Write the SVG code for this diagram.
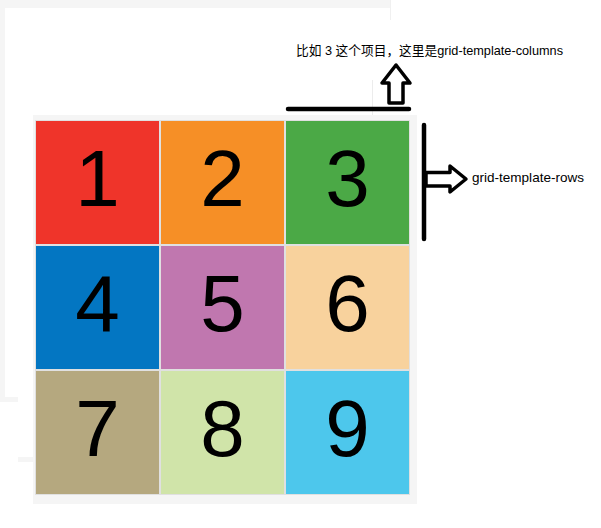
<svg xmlns="http://www.w3.org/2000/svg" width="601" height="528" viewBox="0 0 601 528">
  <style>
    .bg { fill: #f5f5f5; }
    .num { font-family: "Liberation Sans", Arial, sans-serif; font-size: 80px; fill: #000; text-anchor: middle; }
    .note { font-family: "Liberation Sans", "Noto Sans CJK SC", sans-serif; font-size: 13px; fill: #000; }
    .stroke { fill: none; stroke: #000; stroke-width: 4.5; stroke-linecap: round; }
    .arrow { fill: #fff; stroke: #000; stroke-width: 3.5; stroke-linejoin: round; }
  </style>
  <rect x="0" y="0" width="601" height="528" fill="#fff"/>
  <!-- background screenshot remnants -->
  <rect class="bg" x="0" y="0" width="390" height="8"/>
  <rect class="bg" x="0" y="0" width="5" height="402"/>
  <rect class="bg" x="0" y="397" width="18" height="5"/>
  <rect class="bg" x="18" y="457" width="15" height="5"/>
  <line x1="390.5" y1="0" x2="390.5" y2="20" stroke="#f0f0f0" stroke-width="1"/>
  <line x1="372.5" y1="80" x2="372.5" y2="115" stroke="#ececec" stroke-width="1"/>
  <!-- grid container -->
  <rect class="bg" x="33" y="115" width="384" height="389"/>
  <rect x="35" y="120" width="375" height="375" fill="#e0e0e0"/>
  <g id="cell1"><rect x="36" y="121" width="123" height="123" fill="#ef342a"/><text class="num" x="97.5" y="206">1</text></g>
  <g id="cell2"><rect x="161" y="121" width="123" height="123" fill="#f68f26"/><text class="num" x="222.5" y="206">2</text></g>
  <g id="cell3"><rect x="286" y="121" width="123" height="123" fill="#4ba946"/><text class="num" x="347.5" y="206">3</text></g>
  <g id="cell4"><rect x="36" y="246" width="123" height="123" fill="#0376c2"/><text class="num" x="97.5" y="331">4</text></g>
  <g id="cell5"><rect x="161" y="246" width="123" height="123" fill="#c077af"/><text class="num" x="222.5" y="331">5</text></g>
  <g id="cell6"><rect x="286" y="246" width="123" height="123" fill="#f8d29d"/><text class="num" x="347.5" y="331">6</text></g>
  <g id="cell7"><rect x="36" y="371" width="123" height="123" fill="#b5a87f"/><text class="num" x="97.5" y="456">7</text></g>
  <g id="cell8"><rect x="161" y="371" width="123" height="123" fill="#d0e4a9"/><text class="num" x="222.5" y="456">8</text></g>
  <g id="cell9"><rect x="286" y="371" width="123" height="123" fill="#4dc7ec"/><text class="num" x="347.5" y="456">9</text></g>
  <!-- connectors / annotations -->
  <g id="connectors">
    <line class="stroke" x1="288" y1="109" x2="409" y2="109"/>
    <polygon class="arrow" points="396,65 410,83 403,83 403,103 389,103 389,83 382,83"/>
    <line class="stroke" x1="424" y1="125" x2="424" y2="239"/>
    <polygon class="arrow" points="426,172.5 450,172.5 450,166 466,179 450,192 450,186 426,186" stroke-width="4.5"/>
  </g>
  <g id="label-columns"><text class="note" x="296" y="55" textLength="267" lengthAdjust="spacingAndGlyphs">比如 3 这个项目，这里是grid-template-columns</text></g>
  <g id="label-rows"><text class="note" x="472" y="182" textLength="112" lengthAdjust="spacingAndGlyphs">grid-template-rows</text></g>
</svg>
